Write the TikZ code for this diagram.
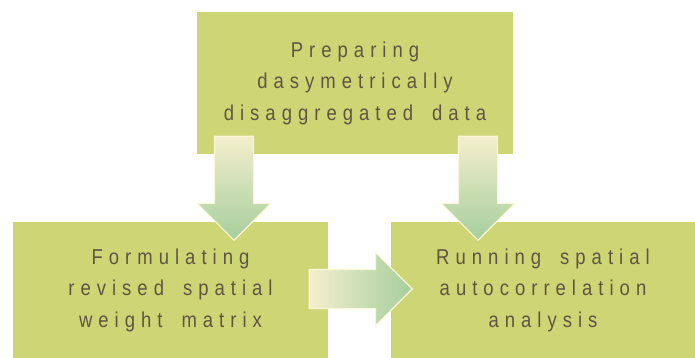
\documentclass[tikz,border=0pt]{standalone}
\usepackage{fontspec}
\setmainfont{Liberation Sans}[FakeStretch=0.86, LetterSpace=28, WordSpace=1.7]
\usetikzlibrary{shapes.arrows}
\definecolor{boxG}{RGB}{205,213,116}
\definecolor{txtB}{RGB}{96,85,68}
\definecolor{arT}{RGB}{244,239,204}
\definecolor{arB}{RGB}{166,206,156}
\definecolor{arE}{RGB}{250,246,214}
\newcommand{\SH}{19pt}
\newcommand{\AX}{17pt}

\begin{document}
\begin{tikzpicture}[
    x=1pt, y=-1pt,
    box/.style={rectangle, fill=boxG, inner sep=0pt, text=txtB, align=center,
                font=\fontsize{21.5}{31.5}\selectfont},
    blk/.style={single arrow, draw=arE, line width=1.1pt, inner sep=\SH,
                single arrow head extend=\AX, anchor=tip},
    down/.style={blk, shape border rotate=270, top color=arT, bottom color=arB},
    right/.style={blk, left color=arT, right color=arB},
  ]
  \useasboundingbox (0,0) rectangle (695,358);

  % the three steps
  \node[box, minimum width=316pt, minimum height=142pt] (prep) at (355,83)
       {Preparing\\dasymetrically\\disaggregated data};
  \node[box, minimum width=315pt, minimum height=136pt] (form) at (170.5,290)
       {Formulating\\revised spatial\\weight matrix};
  \node[box, minimum width=304pt, minimum height=136pt] (run) at (543,290)
       {Running spatial\\autocorrelation\\analysis};

  % block arrows between them, placed by their tips
  \node[down, minimum height=104pt] (prepform) at (234,241) {};
  \node[down, minimum height=104pt] (preprun) at (478,241) {};
  \node[right, minimum height=103pt] (formrun) at (413,289) {};

\end{tikzpicture}
\end{document}
